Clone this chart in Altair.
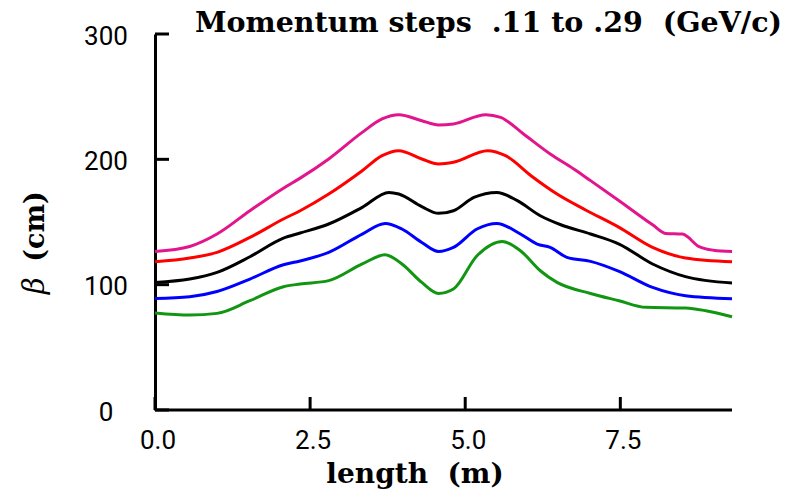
import altair as alt
import pandas as pd

# ---- data ----
momenta = [".29", ".245", ".20", ".155", ".11"]
colors = ["#e3158c", "#ff0000", "#000000", "#0000ff", "#129612"]

x_p29 = [0.0, 0.56, 1.0, 1.53, 2.07, 2.34, 2.80, 3.34, 3.66, 3.93, 4.30, 4.57, 4.81, 5.33, 5.57, 5.94, 6.37, 6.75, 7.02, 7.48, 8.02, 8.23, 8.50, 8.77, 9.0, 9.3]
y_p29 = [126.5, 130.5, 140.4, 159.0, 177.0, 185.0, 200.3, 221.5, 232.2, 235.6, 230.8, 227.4, 228.2, 235.6, 233.5, 220.2, 204.3, 192.3, 183.0, 167.0, 147.8, 140.9, 140.4, 130.3, 127.5, 126.5]

x_p245 = [0.0, 0.56, 1.0, 1.53, 2.07, 2.34, 2.80, 3.34, 3.66, 3.93, 4.30, 4.57, 4.81, 5.36, 5.65, 6.06, 6.48, 6.94, 7.48, 8.02, 8.55, 9.3]
y_p245 = [118.3, 121.3, 125.8, 137.7, 152.4, 159.0, 172.3, 190.9, 202.9, 206.9, 200.3, 196.3, 197.6, 206.9, 202.9, 186.9, 172.3, 159.6, 145.7, 129.7, 121.3, 118.3]

x_p20 = [0.0, 0.56, 1.0, 1.53, 2.07, 2.34, 2.80, 3.34, 3.77, 3.93, 4.30, 4.57, 4.81, 5.14, 5.51, 5.84, 6.21, 6.54, 7.02, 7.48, 8.02, 8.55, 9.3]
y_p20 = [101.8, 104.5, 109.8, 122.3, 137.2, 141.2, 148.4, 161.7, 173.6, 172.3, 162.2, 156.9, 159.0, 169.6, 173.6, 167.0, 155.0, 147.8, 140.4, 132.4, 116.5, 106.4, 101.3]

x_p155 = [0.0, 0.56, 1.0, 1.53, 2.07, 2.34, 2.80, 3.34, 3.71, 3.98, 4.30, 4.57, 4.81, 5.19, 5.51, 5.89, 6.16, 6.37, 6.64, 7.02, 7.48, 8.02, 8.55, 9.3]
y_p155 = [89.0, 90.4, 94.6, 104.5, 115.9, 118.9, 125.8, 140.4, 148.9, 144.4, 133.7, 126.5, 129.7, 144.4, 148.9, 140.4, 132.4, 129.7, 121.8, 118.6, 110.6, 97.8, 91.2, 88.8]

x_p11 = [0.0, 0.56, 1.0, 1.53, 2.07, 2.34, 2.80, 3.34, 3.71, 3.98, 4.30, 4.57, 4.81, 5.19, 5.60, 5.89, 6.21, 6.48, 7.02, 7.48, 7.91, 8.55, 8.88, 9.3]
y_p11 = [77.4, 75.8, 77.1, 87.2, 98.4, 100.5, 103.2, 116.5, 123.9, 116.5, 101.8, 93.0, 96.5, 123.1, 134.5, 127.1, 111.1, 101.8, 93.0, 87.2, 81.9, 81.4, 79.2, 74.4]

x_ticks = [0.0, 2.5, 5.0, 7.5]
x_labels = ["0.0", "2.5", "5.0", "7.5"]
x_range = [0.0, 9.3]
y_ticks = [0, 100, 200, 300]
x_title = "length\u00a0 (m)"

# ---- table ----
rows = []
for name, xs, ys in zip(momenta,
                        [x_p29, x_p245, x_p20, x_p155, x_p11],
                        [y_p29, y_p245, y_p20, y_p155, y_p11]):
    for i, (xv, yv) in enumerate(zip(xs, ys)):
        rows.append({"momentum": name, "length": xv, "beta": yv, "i": i})
df = pd.DataFrame(rows)

W, H = 577, 376
xs_ = alt.Scale(domain=x_range, nice=False, zero=False)
ys_ = alt.Scale(domain=[0, 300], nice=False, zero=False)

lines = alt.Chart(df).mark_line(strokeWidth=3, interpolate="monotone").encode(
    x=alt.X("length:Q", scale=xs_, axis=None),
    y=alt.Y("beta:Q", scale=ys_, axis=alt.Axis(
        orient="left", values=y_ticks, format="d", ticks=False, grid=False,
        domainColor="black", domainWidth=3,
        labelFont="Roboto", labelFontSize=26, labelColor="black",
        labelAlign="center", labelBaseline="middle", labelPadding=49.5, labelOffset=2,
        title="(cm)", titleFont="DejaVu Serif", titleFontWeight="bold",
        titleFontSize=27, titleColor="black", titleAngle=270,
        titleX=-112, titleY=192, titleAlign="center", titleBaseline="alphabetic")),
    color=alt.Color("momentum:N", scale=alt.Scale(domain=momenta, range=colors), legend=None),
    order="i:Q",
)

ytick_df = pd.DataFrame({"v": y_ticks})
yticks = alt.Chart(ytick_df).mark_rule(strokeWidth=3, color="black").encode(
    y=alt.Y("v:Q", scale=ys_, axis=alt.Axis(
        orient="right", labels=False, ticks=False, domain=False, grid=False,
        title="β", titleFont="DejaVu Serif", titleFontStyle="italic",
        titleFontWeight="normal", titleFontSize=29, titleColor="black",
        titleAngle=270, titleX=-W - 112, titleY=251,
        titleAlign="center", titleBaseline="alphabetic")),
    x=alt.value(0), x2=alt.value(14),
)

xtick_df = pd.DataFrame({"v": x_ticks, "label": x_labels})
xticks = alt.Chart(xtick_df).mark_rule(strokeWidth=3, color="black").encode(
    x=alt.X("v:Q", scale=xs_, axis=None),
    y=alt.value(H), y2=alt.value(H - 13),
)
xlabels = alt.Chart(xtick_df).mark_text(
    font="Roboto", fontSize=26, color="black", baseline="alphabetic", align="center", dx=3
).encode(
    x=alt.X("v:Q", scale=xs_, axis=None),
    y=alt.value(H + 39),
    text="label:N",
)

xdomain_df = pd.DataFrame({"x0": [x_range[0]], "x1": [x_range[1]], "y0": [0]})
xdomain = alt.Chart(xdomain_df).mark_rule(strokeWidth=3, color="black").encode(
    x=alt.X("x0:Q", scale=xs_, axis=None),
    x2="x1:Q",
    y=alt.Y("y0:Q", scale=ys_, axis=None),
)

xtitle_df = pd.DataFrame({"t": [x_title]})
xtitle = alt.Chart(xtitle_df).mark_text(
    font="DejaVu Serif", fontSize=28, fontWeight="bold", color="black",
    baseline="alphabetic", align="center"
).encode(
    x=alt.value(260), y=alt.value(H + 73), text="t:N",
)

chart = alt.layer(lines, yticks, xdomain, xticks, xlabels, xtitle).resolve_scale(
    y="shared", x="shared"
).resolve_axis(y="independent").properties(
    width=W, height=H,
    background="white",
    autosize=alt.AutoSizeParams(type="pad"),
    padding={"left": 12, "top": 0, "right": 0, "bottom": 0},
    title=alt.TitleParams(
        "Momentum steps\u00a0 .11 to .29\u00a0 (GeV/c)",
        font="DejaVu Serif", fontSize=28.5, fontWeight="bold", color="black",
        anchor="middle", dx=45, dy=37, baseline="alphabetic", offset=0,
    ),
).configure_view(strokeWidth=0)

chart.save("out.html", embed_options={"renderer": "svg", "actions": False})
